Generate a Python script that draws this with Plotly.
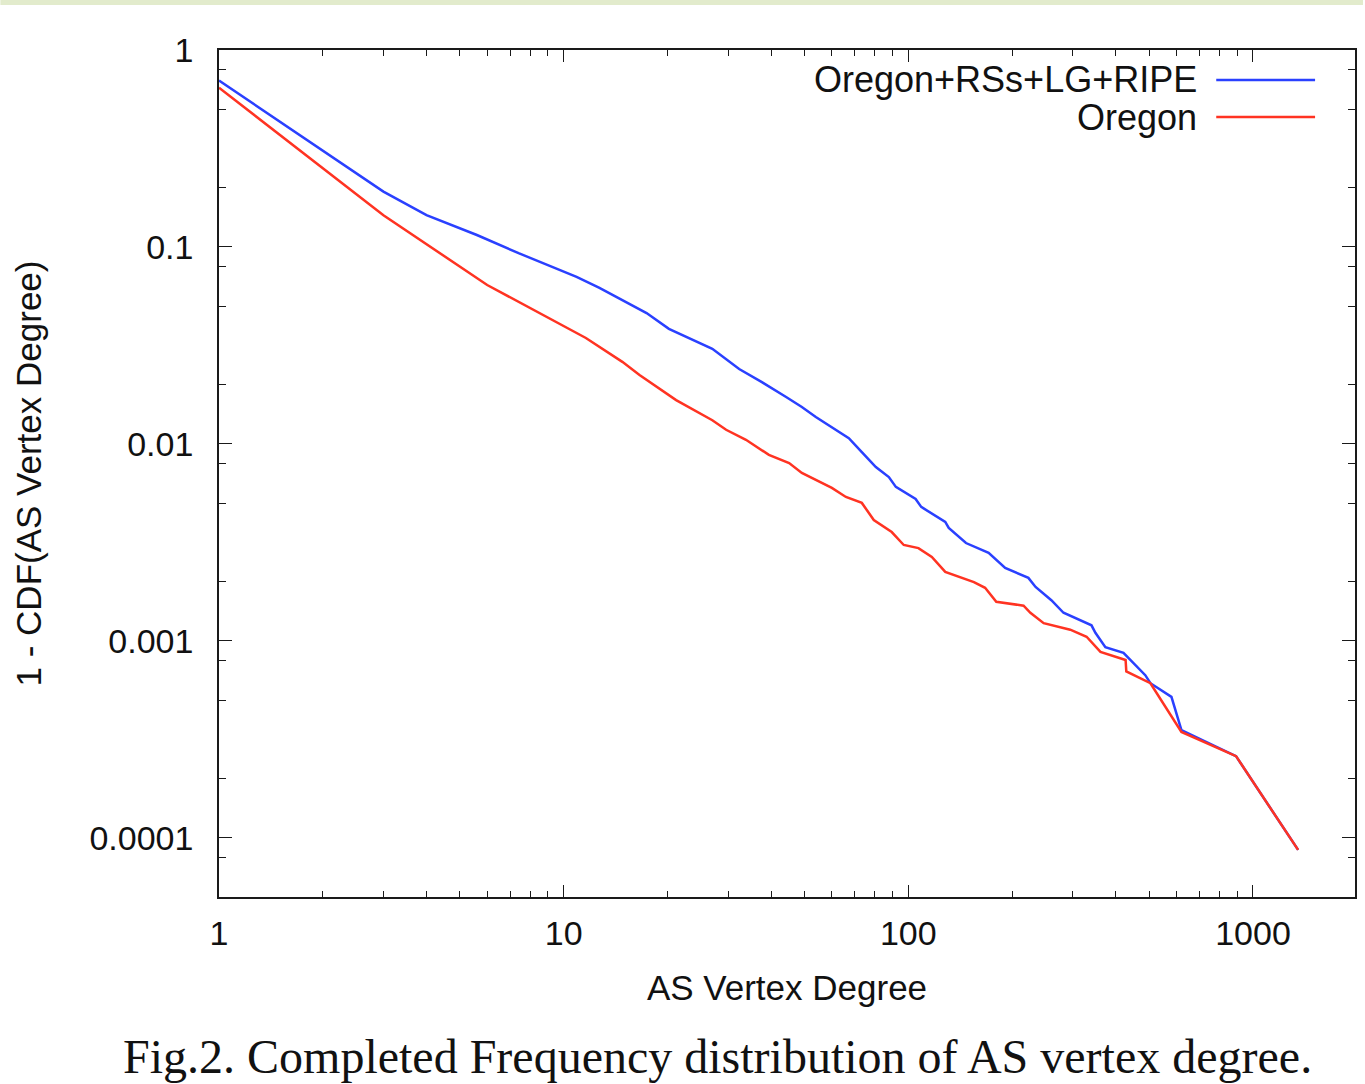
import plotly.graph_objects as go

# Data (AS vertex degree vs 1 - CDF)
deg_all = [1, 3, 4, 5.6, 7.4, 10.9, 12.7, 15.8, 17.4, 20.2, 27, 32.3, 37.6, 44.2, 49.1,
           53.9, 61.6, 67.2, 73.3, 80.5, 87.8, 92, 105, 109, 128, 131, 147, 171, 191,
           223, 234, 260, 282, 340, 349, 373, 421, 487, 504, 580, 620, 893, 1352]
ccdf_all = [0.70, 0.191, 0.145, 0.115, 0.093, 0.0705, 0.062, 0.0508, 0.0462, 0.0384,
            0.0304, 0.0240, 0.0206, 0.0173, 0.0154, 0.0137, 0.0118, 0.0107, 0.0091,
            0.00764, 0.00679, 0.00605, 0.00526, 0.00479, 0.00402, 0.00375, 0.00314,
            0.0028, 0.00235, 0.00209, 0.00188, 0.00161, 0.00139, 0.0012, 0.0011,
            0.00093, 0.00087, 0.00067, 0.00061, 0.00052, 0.000353, 0.00026, 0.0000869]

deg_oregon = [1, 3, 6, 11.6, 14.8, 16.6, 21.2, 27, 29.6, 33.8, 39.4, 45.1, 49.1, 60,
              65.9, 73.3, 79.4, 89.5, 97, 107, 117, 128, 155, 167, 180, 216, 226, 247,
              295, 329, 361, 427, 429, 504, 620, 893, 1352]
ccdf_oregon = [0.644, 0.145, 0.0641, 0.0345, 0.0261, 0.0224, 0.0167, 0.0132, 0.0118,
               0.0105, 0.0088, 0.0080, 0.00713, 0.00598, 0.00538, 0.00502, 0.00411,
               0.00357, 0.00307, 0.00296, 0.00267, 0.00224, 0.00199, 0.00186, 0.00158,
               0.00151, 0.00139, 0.00123, 0.00114, 0.00105, 0.00088, 0.00080, 0.00070,
               0.00061, 0.000345, 0.00026, 0.0000869]

series_names = ["Oregon+RSs+LG+RIPE", "Oregon"]
x_ticks = [1, 10, 100, 1000]
x_tick_labels = ["1", "10", "100", "1000"]
y_ticks = [1, 0.1, 0.01, 0.001, 0.0001]
y_tick_labels = ["1", "0.1", "0.01", "0.001", "0.0001"]
x_minor = [m * 10 ** d for d in range(4) for m in range(2, 10)]
y_minor = [m * 10 ** d for d in range(-5, 0) for m in (2, 5, 8)]

BLUE = "#2a40ff"
RED = "#ff3322"
SANS = "Liberation Sans, Arial, Helvetica, sans-serif"

fig = go.Figure()
fig.add_trace(go.Scatter(x=deg_all, y=ccdf_all, mode="lines", name=series_names[0],
                         line=dict(color=BLUE, width=2.5)))
fig.add_trace(go.Scatter(x=deg_oregon, y=ccdf_oregon, mode="lines", name=series_names[1],
                         line=dict(color=RED, width=2.5)))

axis_common = dict(
    showline=True, linecolor="#1a1a1a", linewidth=1.6, mirror="ticks",
    ticks="inside", tickcolor="#1a1a1a", tickwidth=1.4,
    showgrid=False, zeroline=False,
    tickfont=dict(family=SANS, size=34, color="#111"),
)

fig.update_xaxes(type="log", range=[0, 3.296], tickmode="array",
                 tickvals=x_ticks, ticktext=x_tick_labels, ticklen=12,
                 ticklabelstandoff=5,
                 minor=dict(tickmode="array", tickvals=x_minor, ticks="inside",
                            ticklen=6, tickcolor="#1a1a1a", tickwidth=1.2, showgrid=False),
                 title=dict(text="AS Vertex Degree", font=dict(family=SANS, size=35, color="#111"),
                            standoff=25),
                 **axis_common)
fig.update_yaxes(type="log", range=[-4.30, 0], tickmode="array",
                 tickvals=y_ticks, ticktext=y_tick_labels, ticklen=13,
                 ticklabelstandoff=17,
                 minor=dict(tickmode="array", tickvals=y_minor, ticks="inside",
                            ticklen=7, tickcolor="#1a1a1a", tickwidth=1.2, showgrid=False),
                 title=dict(text="1 - CDF(AS Vertex Degree)", font=dict(family=SANS, size=35, color="#111"),
                            standoff=37),
                 **axis_common)

# gnuplot-style legend (text right-aligned, sample line to the right)
W, H, L, T = 1138.0, 847.0, 219.0, 50.0
def px(x):
    return (x - L) / W
def py(y):
    return 1 - (y - T) / H

for name, color, ypix in [(series_names[0], BLUE, 80), (series_names[1], RED, 117)]:
    fig.add_annotation(text=name, xref="paper", yref="paper", x=px(1201), y=py(ypix),
                       xanchor="right", yanchor="middle", showarrow=False,
                       font=dict(family=SANS, size=36, color="#111"))
    fig.add_shape(type="line", xref="paper", yref="paper", x0=px(1218), x1=px(1317),
                  y0=py(ypix), y1=py(ypix), line=dict(color=color, width=2.5))

# caption
fig.add_annotation(text="Fig.2. Completed Frequency distribution of AS vertex degree.",
                   xref="paper", yref="paper", x=px(718), y=py(1056),
                   xanchor="center", yanchor="middle", showarrow=False,
                   font=dict(family="Liberation Serif, Times New Roman, serif", size=48, color="#111"))

# light decorative strip at the very top of the page
fig.add_shape(type="rect", xref="paper", yref="paper", x0=px(0), x1=px(1365),
              y0=py(5), y1=py(0), line=dict(width=0), fillcolor="#e2ebcc", layer="below")

fig.update_layout(
    width=1365, height=1084,
    margin=dict(l=219, r=8, t=50, b=187),
    paper_bgcolor="white", plot_bgcolor="white",
    showlegend=False,
)

fig.write_html("out.html", config={"displayModeBar": False},
               post_script="document.body.style.margin='0';document.body.style.overflow='hidden';")
